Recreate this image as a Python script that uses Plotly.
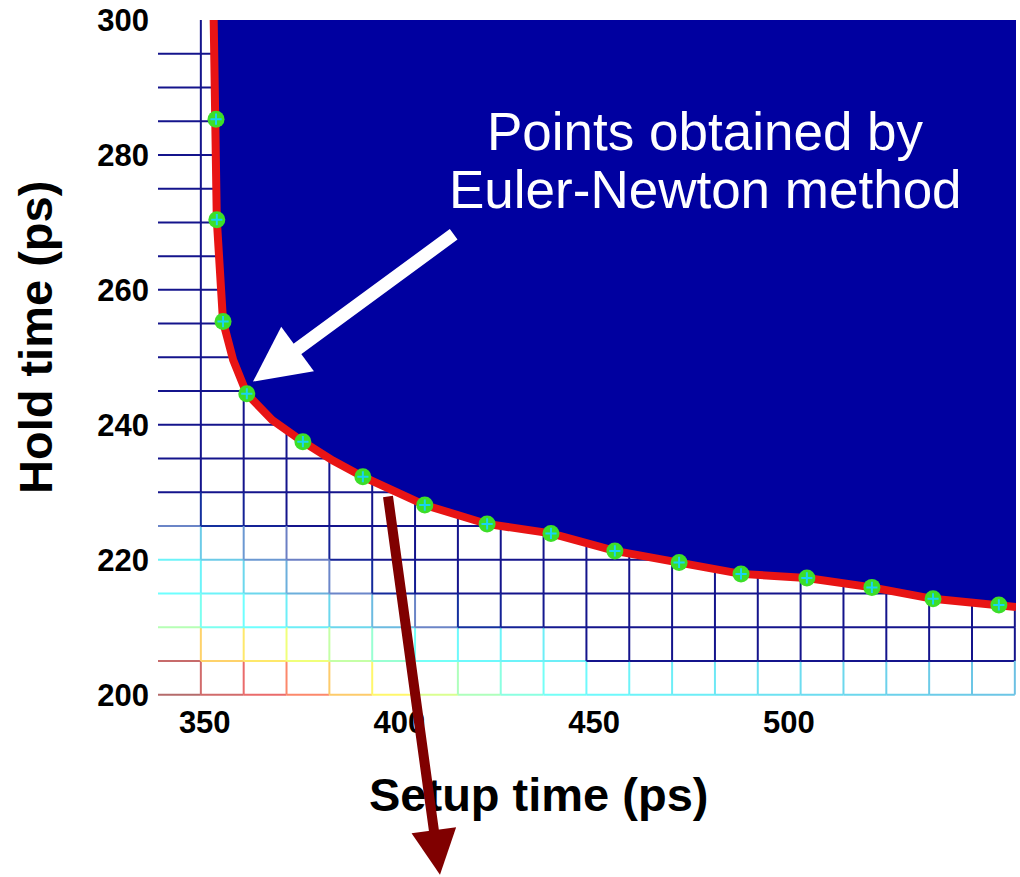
import plotly.graph_objects as go
from plotly.colors import sample_colorscale

# ---------------- data ----------------
x_range = [338, 558.3]
y_range = [199.8, 300]
x_ticks = [350, 400, 450, 500]
y_ticks = [200, 220, 240, 260, 280, 300]

# mesh grid (setup / hold in ps)
mesh_setup = [338, 349, 360, 371, 382, 393, 404, 415, 426, 437, 448,
              459, 470, 481, 492, 503, 514, 525, 536, 547, 558]
mesh_hold = [200, 205, 210, 215, 220, 225, 230, 235, 240, 245, 250,
             255, 260, 265, 270, 275, 280, 285, 290, 295, 300]

# normalised surface value at mesh vertices for the lowest rows (jet colour)
z_200 = [1.00, 0.92, 0.85, 0.76, 0.67, 0.61, 0.55, 0.49, 0.44, 0.41, 0.39,
         0.38, 0.37, 0.36, 0.35, 0.34, 0.33, 0.32, 0.31, 0.30, 0.29]
z_205 = [0.95, 0.66, 0.63, 0.58, 0.52, 0.46, 0.41, 0.39, 0.38, 0.37, 0.0,
         0.0, 0.0, 0.0, 0.0, 0.0, 0.0, 0.0, 0.0, 0.0, 0.0]
z_210 = [0.50, 0.42, 0.40, 0.37, 0.33, 0.28, 0.15, 0.10, 0.05, 0.02, 0.0,
         0.0, 0.0, 0.0, 0.0, 0.0, 0.0, 0.0, 0.0, 0.0, 0.0]
z_215 = [0.40, 0.38, 0.33, 0.26, 0.16, 0.08, 0.03, 0.0, 0.0, 0.0, 0.0,
         0.0, 0.0, 0.0, 0.0, 0.0, 0.0, 0.0, 0.0, 0.0, 0.0]
z_220 = [0.38, 0.31, 0.22, 0.12, 0.05, 0.0, 0.0, 0.0, 0.0, 0.0, 0.0,
         0.0, 0.0, 0.0, 0.0, 0.0, 0.0, 0.0, 0.0, 0.0, 0.0]
z_225 = [0.15, 0.10, 0.05, 0.0, 0.0, 0.0, 0.0, 0.0, 0.0, 0.0, 0.0,
         0.0, 0.0, 0.0, 0.0, 0.0, 0.0, 0.0, 0.0, 0.0, 0.0]
z_rows = [z_200, z_205, z_210, z_215, z_220, z_225]

# boundary of the passing region (red curve)
boundary_setup = [352.3, 352.6, 352.9, 353.1, 354.7, 357.3, 360.8, 367.3, 375.2,
                  382.9, 390.6, 406.5, 422.5, 438.9, 455.3, 471.8, 487.7, 504.6,
                  521.3, 537.0, 553.9, 558.3]
boundary_hold = [300.0, 292.0, 285.3, 270.4, 255.3, 249.6, 244.6, 240.7, 237.5,
                 234.7, 232.3, 228.1, 225.3, 223.9, 221.3, 219.6, 217.9, 217.3,
                 215.9, 214.2, 213.3, 213.0]

# points obtained by Euler-Newton method
points_setup = [352.9, 353.1, 354.7, 360.8, 375.2, 390.6, 406.5, 422.5,
                438.9, 455.3, 471.8, 487.7, 504.6, 521.3, 537.0, 553.9]
points_hold = [285.3, 270.4, 255.3, 244.6, 237.5, 232.3, 228.1, 225.3,
               223.9, 221.3, 219.6, 217.9, 217.3, 215.9, 214.2, 213.3]

# arrows (tail -> tip) in data units
white_arrow = dict(tail=(414.3, 268.4), tip=(362.4, 246.4))
red_arrow = dict(tail=(397.0, 229.6), tip=(410.4, 173.3))

FONT = "Liberation Sans, Arial, sans-serif"


def zval(r, c):
    return z_rows[r][c] if r < len(z_rows) else 0.0


def colour(z):
    c = sample_colorscale("Jet", [z])[0]
    r, g, b = [float(v) for v in c[c.index("(") + 1:-1].split(",")]
    k = 0.42 if z > 0.1 else 0.08
    r, g, b = (r + (255 - r) * k, g + (255 - g) * k, b + (255 - b) * k)
    return "rgb(%d,%d,%d)" % (r, g, b)


segs = {}


def add(col, x0, y0, x1, y1):
    d = segs.setdefault(col, ([], []))
    d[0].extend([x0, x1, None])
    d[1].extend([y0, y1, None])


nx, ny = len(mesh_setup), len(mesh_hold)
# horizontal mesh lines (top frame row not drawn)
for r in range(ny - 1):
    for c in range(nx - 1):
        add(colour(zval(r, c)), mesh_setup[c], mesh_hold[r], mesh_setup[c + 1], mesh_hold[r])
# vertical mesh lines (first column lies on the frame)
for c in range(1, nx):
    for r in range(ny - 1):
        add(colour(zval(r, c)), mesh_setup[c], mesh_hold[r], mesh_setup[c], mesh_hold[r + 1])

fig = go.Figure()
for col, (xs, ys) in segs.items():
    fig.add_trace(go.Scatter(x=xs, y=ys, mode="lines", line=dict(color=col, width=2),
                             hoverinfo="skip", showlegend=False))

# passing region (filled)
fig.add_trace(go.Scatter(
    x=boundary_setup + [x_range[1], boundary_setup[0]],
    y=boundary_hold + [y_range[1], y_range[1]],
    fill="toself", fillcolor="rgb(0,0,160)", mode="lines",
    line=dict(width=0, color="rgb(0,0,160)"), hoverinfo="skip", showlegend=False))

# boundary curve
fig.add_trace(go.Scatter(x=boundary_setup, y=boundary_hold, mode="lines",
                         line=dict(color="rgb(232,20,20)", width=8),
                         hoverinfo="skip", showlegend=False))

# Euler-Newton points
fig.add_trace(go.Scatter(x=points_setup, y=points_hold, mode="markers",
                         marker=dict(symbol="circle", size=17, color="rgb(60,222,40)"),
                         showlegend=False))
fig.add_trace(go.Scatter(x=points_setup, y=points_hold, mode="markers",
                         marker=dict(symbol="cross-thin-open", size=8,
                                     line=dict(color="rgb(10,55,10)", width=2)),
                         hoverinfo="skip", showlegend=False))

annotations = [
    dict(text="Points obtained by", xref="paper", yref="paper", x=0.638, y=0.835,
         xanchor="center", yanchor="middle", showarrow=False,
         font=dict(family=FONT, size=53, color="white")),
    dict(text="Euler-Newton method", xref="paper", yref="paper", x=0.638, y=0.749,
         xanchor="center", yanchor="middle", showarrow=False,
         font=dict(family=FONT, size=53, color="white")),
    dict(text="<b>Hold time (ps)</b>", xref="paper", yref="paper", x=-0.143, y=0.530,
         xanchor="center", yanchor="middle", textangle=-90, showarrow=False,
         font=dict(family=FONT, size=47, color="black")),
    dict(text="<b>Setup time (ps)</b>", xref="paper", yref="paper", x=0.4434, y=-0.145,
         xanchor="center", yanchor="middle", showarrow=False,
         font=dict(family=FONT, size=47, color="black")),
    dict(text="", x=white_arrow["tip"][0], y=white_arrow["tip"][1],
         ax=white_arrow["tail"][0], ay=white_arrow["tail"][1],
         xref="x", yref="y", axref="x", ayref="y", showarrow=True,
         arrowhead=2, arrowsize=0.85, arrowwidth=13, arrowcolor="white", standoff=0),
    dict(text="", x=red_arrow["tip"][0], y=red_arrow["tip"][1],
         ax=red_arrow["tail"][0], ay=red_arrow["tail"][1],
         xref="x", yref="y", axref="x", ayref="y", showarrow=True,
         arrowhead=2, arrowsize=0.9, arrowwidth=10, arrowcolor="rgb(128,0,0)", standoff=0),
]

# plot area at x 158-1016, y 20-696 of the 1020x877 page
fig.update_layout(
    width=1020, height=877,
    margin=dict(l=158, r=4, t=20, b=181, autoexpand=False),
    paper_bgcolor="white", plot_bgcolor="white",
    annotations=annotations,
    xaxis=dict(range=x_range, tickvals=x_ticks, showgrid=False, zeroline=False,
               showline=False, ticks="", ticklabelstandoff=5,
               tickfont=dict(family=FONT, size=31, color="black", weight="bold")),
    yaxis=dict(range=y_range, tickvals=y_ticks, showgrid=False, zeroline=False,
               showline=False, ticks="", ticklabelstandoff=8,
               tickfont=dict(family=FONT, size=31, color="black", weight="bold")),
)

fig.write_html("out.html",
               config={"displayModeBar": False},
               post_script="document.body.style.margin='0';"
                           "document.body.style.overflow='hidden';")
